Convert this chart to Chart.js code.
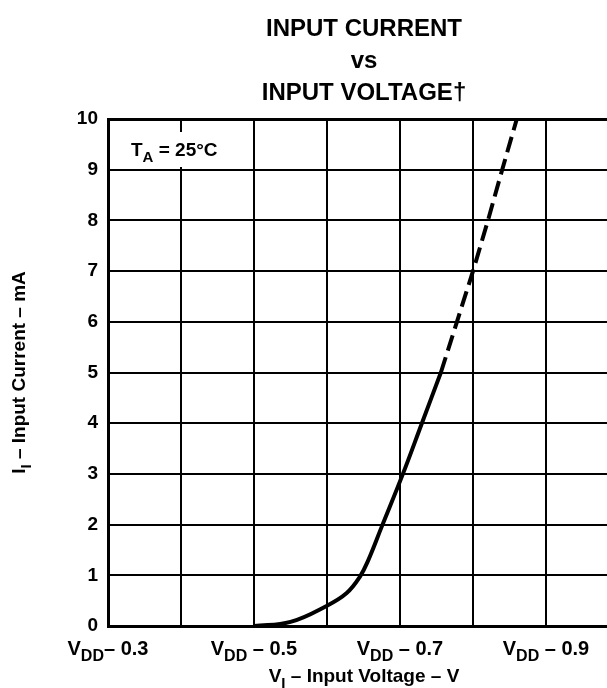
<!DOCTYPE html>
<html lang="en">
<head>
    <meta charset="UTF-8">
    <title>Input Current vs Input Voltage</title>
    <script src="https://cdn.jsdelivr.net/npm/chart.js"></script>
    <style>
        body { margin: 0; background: #fff; }
        canvas { display: block; }
    </style>
</head>
<body>
    <canvas id="ivChart" width="607" height="688"></canvas>

    <script>
        // curve (x = volts below VDD, y = mA)
        const solidX = [0.5, 0.55, 0.6, 0.627, 0.645, 0.6566, 0.675, 0.704, 0.73, 0.756];
        const solidY = [0, 0.08, 0.4, 0.65, 0.97, 1.3, 1.96, 3.0, 4.0, 5.0];
        const dashX = [0.756, 0.778, 0.8, 0.8205, 0.84, 0.86];
        const dashY = [5, 6, 7, 8, 9, 10];

        const gridX = [0.3, 0.4, 0.5, 0.6, 0.7, 0.8, 0.9];
        const xLabelValues = [0.3, 0.5, 0.7, 0.9];
        const xLabels = ['V_{DD}– 0.3', 'V_{DD} – 0.5', 'V_{DD} – 0.7', 'V_{DD} – 0.9'];
        const titleLines = ['INPUT CURRENT', 'vs', 'INPUT VOLTAGE†'];
        const xTitle = 'V_{I} – Input Voltage – V';
        const yTitle = 'I_{I} – Input Current – mA';
        const note = 'T_{A} = 25°C';

        const FONT = '"Liberation Sans", Arial, Helvetica, sans-serif';

        // draws text with _{...} parts as subscripts
        function drawRich(ctx, str, x, y, size, align) {
            const parts = [];
            const re = /_\{([^}]*)\}/g;
            let last = 0, m;
            while ((m = re.exec(str)) !== null) {
                if (m.index > last) parts.push({ t: str.slice(last, m.index), sub: false });
                parts.push({ t: m[1], sub: true });
                last = re.lastIndex;
            }
            if (last < str.length) parts.push({ t: str.slice(last), sub: false });

            const subSize = Math.round(size * 0.8);
            let total = 0;
            parts.forEach(p => {
                ctx.font = 'bold ' + (p.sub ? subSize : size) + 'px ' + FONT;
                p.w = ctx.measureText(p.t).width;
                total += p.w;
            });
            let cx = align === 'center' ? x - total / 2 : (align === 'right' ? x - total : x);
            ctx.textBaseline = 'alphabetic';
            ctx.textAlign = 'left';
            parts.forEach(p => {
                ctx.font = 'bold ' + (p.sub ? subSize : size) + 'px ' + FONT;
                ctx.fillText(p.t, cx, y + (p.sub ? size * 0.3 : 0));
                cx += p.w;
            });
            return total;
        }

        const textPlugin = {
            id: 'textPlugin',
            afterDraw(chart) {
                const ctx = chart.ctx;
                const xs = chart.scales.x;
                const area = chart.chartArea;
                ctx.save();
                ctx.fillStyle = '#000';

                titleLines.forEach((line, i) => {
                    drawRich(ctx, line, 364, 36 + i * 32, 24, 'center');
                });

                xLabelValues.forEach((v, i) => {
                    drawRich(ctx, xLabels[i], xs.getPixelForValue(v), 655, 20, 'center');
                });
                drawRich(ctx, xTitle, 364, 682, 19, 'center');

                ctx.save();
                ctx.translate(25, (area.top + area.bottom) / 2);
                ctx.rotate(-Math.PI / 2);
                drawRich(ctx, yTitle, 0, 0, 19, 'center');
                ctx.restore();

                // temperature note with white box over the grid
                ctx.fillStyle = '#fff';
                ctx.fillRect(128, 132, 104, 35);
                ctx.fillStyle = '#000';
                drawRich(ctx, note, 131, 156, 19, 'left');
                ctx.restore();
            }
        };

        const toPoints = (xs, ys) => xs.map((x, i) => ({ x: x, y: ys[i] }));

        new Chart(document.getElementById('ivChart'), {
            type: 'scatter',
            data: {
                datasets: [{
                    data: toPoints(solidX, solidY),
                    showLine: true,
                    borderColor: '#000',
                    borderWidth: 4,
                    pointRadius: 0,
                    tension: 0.4
                }, {
                    data: toPoints(dashX, dashY),
                    showLine: true,
                    borderColor: '#000',
                    borderWidth: 4,
                    borderDash: [16, 7],
                    pointRadius: 0
                }]
            },
            options: {
                responsive: false,
                animation: false,
                layout: { padding: { top: 119, right: 0, left: 0, bottom: 0 } },
                plugins: {
                    legend: { display: false },
                    tooltip: { enabled: false }
                },
                scales: {
                    x: {
                        type: 'linear',
                        min: 0.3,
                        max: 0.3 + 499 / 730,
                        afterBuildTicks: scale => { scale.ticks = gridX.map(v => ({ value: v })); },
                        afterFit: scale => { scale.height = 62; },
                        ticks: { display: false },
                        grid: { color: '#000', lineWidth: 2, drawTicks: false },
                        border: { color: '#000', width: 3 }
                    },
                    y: {
                        min: 0,
                        max: 10,
                        afterFit: scale => { scale.width = 108; },
                        ticks: {
                            stepSize: 1,
                            padding: 10,
                            color: '#000',
                            font: { family: FONT, size: 19, weight: 'bold' }
                        },
                        grid: {
                            color: '#000',
                            lineWidth: ctx => (ctx.tick && ctx.tick.value === 10 ? 3 : 2),
                            drawTicks: false
                        },
                        border: { color: '#000', width: 3 }
                    }
                }
            },
            plugins: [textPlugin]
        });
    </script>
</body>
</html>
